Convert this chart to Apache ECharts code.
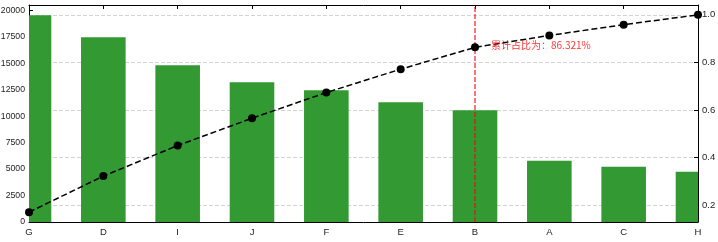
<!DOCTYPE html>
<html>
<head>
<meta charset="utf-8">
<style>html,body{margin:0;padding:0;background:#fff}#c{width:718px;height:242px}</style>
<script src="https://cdn.jsdelivr.net/npm/echarts@6/dist/echarts.min.js"></script>
</head>
<body>
<div id="c"></div>
<script>
const categories = ['G','D','I','J','F','E','B','A','C','H'];
const values = [19528, 17453, 14811, 13208, 12453, 11321, 10566, 5780, 5215, 4747];
const leftTicks = [0,2500,5000,7500,10000,12500,15000,17500,20000];
const rightTicks = [0.2,0.4,0.6,0.8,1.0];
const markCategory = 'B';

const total = values.reduce((a,b)=>a+b,0);
let run = 0;
const cumulative = values.map(v => (run += v) / total);
const markIdx = categories.indexOf(markCategory);
const markPct = cumulative[markIdx];

const p0 = cumulative[0], p1 = cumulative[cumulative.length-1];
const rMin = p0 - 0.05*(p1-p0), rMax = p1 + 0.05*(p1-p0);
const lMax = Math.max(...values) * 1.05;

const tickFont = {fontFamily:'Liberation Sans, Arial, sans-serif', fontSize:8.7, color:'#222'};

const lineData = cumulative.map((v,i)=> i===markIdx ? {
  value: v,
  label: {show:true, position:'right', distance:12, offset:[0,-2],
    formatter: '累计占比为：' + (markPct*100).toFixed(3) + '%',
    color:'rgba(255,0,0,0.8)', fontSize:10, fontFamily:'Noto Sans CJK SC'}
} : v);

const barData = values.map((v,i)=>[i, v]);

const chart = echarts.init(document.getElementById('c'), null, {renderer:'canvas'});
chart.setOption({
  animation:false,
  grid:{left:29, right:20, top:5, bottom:20, containLabel:false, outerBoundsMode:'none'},
  xAxis:[{
    type:'category', data:categories, boundaryGap:false,
    axisLine:{lineStyle:{color:'#000', width:1}},
    axisTick:{inside:true, length:4, alignWithLabel:true, lineStyle:{color:'#000'}},
    axisLabel:Object.assign({margin:5, interval:0}, tickFont, {fontSize:9.5}),
    splitLine:{show:false}
  },{
    type:'category', data:categories, boundaryGap:false, position:'top',
    axisLine:{lineStyle:{color:'#000', width:1}},
    axisTick:{inside:true, length:4, lineStyle:{color:'#000'}},
    axisLabel:{show:false}, splitLine:{show:false}
  }],
  yAxis:[{
    type:'value', min:0, max:lMax, interval:2500, position:'left',
    axisLine:{show:true, lineStyle:{color:'#000'}},
    axisTick:{show:true, inside:true, length:4, lineStyle:{color:'#000'}, customValues:leftTicks},
    axisLabel:Object.assign({margin:4, customValues:leftTicks, formatter:v=>String(v)}, tickFont),
    splitLine:{show:false}
  },{
    type:'value', min:rMin, max:rMax, position:'right',
    axisLine:{show:true, lineStyle:{color:'#000'}},
    axisTick:{show:true, inside:true, length:4, lineStyle:{color:'#000'}, customValues:rightTicks},
    axisLabel:Object.assign({margin:4, customValues:rightTicks, formatter:v=>v.toFixed(1)}, tickFont, {fontSize:9.5}),
    splitLine:{show:true, lineStyle:{color:'#d3d3d3', type:[4,2], width:1}}
  }],
  series:[{
    type:'custom', data:barData, xAxisIndex:0, yAxisIndex:0, z:2,
    encode:{x:0, y:1},
    renderItem:function(params, api){
      const top = api.coord([api.value(0), api.value(1)]);
      const base = api.coord([api.value(0), 0]);
      const w = api.size([1, 0])[0] * 0.6;
      const rect = echarts.graphic.clipRectByRect(
        {x: top[0]-w/2, y: top[1], width: w, height: base[1]-top[1]},
        {x: params.coordSys.x, y: params.coordSys.y, width: params.coordSys.width, height: params.coordSys.height});
      return rect && {type:'rect', shape:rect, style:{fill:'#339933'}};
    }
  },{
    type:'line', data:[], xAxisIndex:0, yAxisIndex:1, z:3,
    markLine:{silent:true, symbol:['none','none'], label:{show:false},
      lineStyle:{color:'rgba(255,0,0,0.6)', type:[5,2], width:1.8},
      data:[{xAxis:markCategory}]}
  },{
    type:'line', data:lineData, xAxisIndex:0, yAxisIndex:1,
    symbol:'circle', symbolSize:8, showSymbol:true,
    itemStyle:{color:'#000'},
    lineStyle:{color:'#000', width:1.5, type:[6,3]},
    z:5
  }]
});
</script>
</body>
</html>
